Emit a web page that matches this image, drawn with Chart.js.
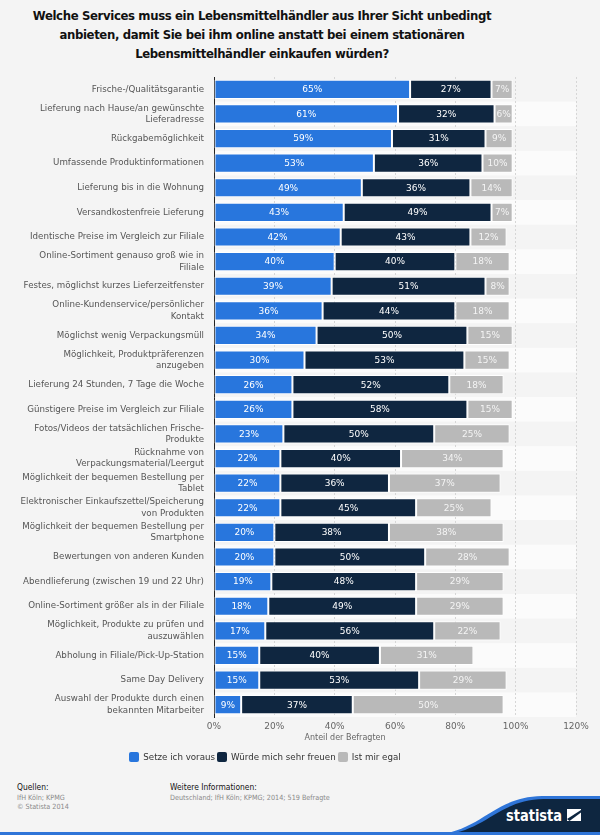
<!DOCTYPE html>
<html>
<head>
<meta charset="utf-8">
<script src="https://cdn.jsdelivr.net/npm/chart.js@4.4.0/dist/chart.umd.min.js"></script>
<style>
  html, body { margin: 0; padding: 0; background: #f4f4f4; }
  body { width: 600px; height: 835px; position: relative; overflow: hidden; font-family: "DejaVu Sans", sans-serif; }
  #title { position: absolute; left: 0; top: 6px; width: 524px; text-align: center; white-space: nowrap; font-family: "DejaVu Sans Condensed", "DejaVu Sans", sans-serif; font-stretch: condensed; font-weight: bold; font-size: 13px; letter-spacing: -0.36px; line-height: 19px; color: #111; }
  #chartWrap { position: absolute; left: 0; top: 0; width: 600px; height: 735px; }
  #axisTitle { position: absolute; left: 0; top: 733px; width: 690px; text-align: center; font-size: 8px; color: #666; }
  #legend { position: absolute; left: 0; top: 752px; width: 530px; text-align: center; white-space: nowrap; font-size: 8.7px; color: #333; }
  #legend span.item { display: inline-block; margin: 0 1px; }
  #legend i { display: inline-block; width: 10px; height: 10px; border-radius: 2px; vertical-align: -2px; margin-right: 4px; }
  .foot { position: absolute; font-family: "DejaVu Sans Condensed", "DejaVu Sans", sans-serif; font-stretch: condensed; font-size: 7.2px; color: #8a8a8a; line-height: 9px; }
  .foot b { font-weight: normal; color: #111; font-size: 8.4px; display: block; margin-bottom: 1px; }
</style>
</head>
<body>
<div id="title">Welche Services muss ein Lebensmittelhändler aus Ihrer Sicht unbedingt<br>anbieten, damit Sie bei ihm online anstatt bei einem stationären<br>Lebensmittelhändler einkaufen würden?</div>
<div id="chartWrap"><canvas id="chart" width="600" height="735"></canvas></div>
<div id="axisTitle">Anteil der Befragten</div>
<div id="legend"></div>
<div class="foot" style="left:17px; top:783px;"><b>Quellen:</b>IfH Köln; KPMG<br>© Statista 2014</div>
<div class="foot" style="left:170px; top:783px;"><b>Weitere Informationen:</b>Deutschland; IfH Köln; KPMG; 2014; 519 Befragte</div>
<svg style="position:absolute; left:0; top:780px;" width="600" height="55">
  <path d="M432 55 C 482 52, 492 17, 542 16 L 600 16 L 600 55 Z" fill="#2f75d8"/>
  <path d="M438 55 C 486 53, 496 20, 544 19 L 600 19 L 600 55 Z" fill="#0e2640"/>
  <rect x="0" y="52" width="600" height="3" fill="#2f75d8"/>
  <text x="506" y="41" fill="#fff" font-family="DejaVu Sans Condensed, DejaVu Sans" font-stretch="condensed" font-weight="bold" font-size="16" textLength="56" lengthAdjust="spacingAndGlyphs">statista</text>
  <rect x="567" y="29" width="14" height="12" fill="#fff"/>
  <path d="M567 39 L 581 30 L 581 32.5 L 569.5 41 Z" fill="#0e2640"/>
</svg>

<script>
// Kategorien (y-Achse, mehrzeilig)
const categories = [
  'Frische-/Qualitätsgarantie',
  ['Lieferung nach Hause/an gewünschte', 'Lieferadresse'],
  'Rückgabemöglichkeit',
  'Umfassende Produktinformationen',
  'Lieferung bis in die Wohnung',
  'Versandkostenfreie Lieferung',
  'Identische Preise im Vergleich zur Filiale',
  ['Online-Sortiment genauso groß wie in', 'Filiale'],
  'Festes, möglichst kurzes Lieferzeitfenster',
  ['Online-Kundenservice/persönlicher', 'Kontakt'],
  'Möglichst wenig Verpackungsmüll',
  ['Möglichkeit, Produktpräferenzen', 'anzugeben'],
  'Lieferung 24 Stunden, 7 Tage die Woche',
  'Günstigere Preise im Vergleich zur Filiale',
  ['Fotos/Videos der tatsächlichen Frische-', 'Produkte'],
  ['Rücknahme von', 'Verpackungsmaterial/Leergut'],
  ['Möglichkeit der bequemen Bestellung per', 'Tablet'],
  ['Elektronischer Einkaufszettel/Speicherung', 'von Produkten'],
  ['Möglichkeit der bequemen Bestellung per', 'Smartphone'],
  'Bewertungen von anderen Kunden',
  'Abendlieferung (zwischen 19 und 22 Uhr)',
  'Online-Sortiment größer als in der Filiale',
  ['Möglichkeit, Produkte zu prüfen und', 'auszuwählen'],
  'Abholung in Filiale/Pick-Up-Station',
  'Same Day Delivery',
  ['Auswahl der Produkte durch einen', 'bekannten Mitarbeiter']
];

const setzeVoraus = [65, 61, 59, 53, 49, 43, 42, 40, 39, 36, 34, 30, 26, 26, 23, 22, 22, 22, 20, 20, 19, 18, 17, 15, 15, 9];
const sehrFreuen  = [27, 32, 31, 36, 36, 49, 43, 40, 51, 44, 50, 53, 52, 58, 50, 40, 36, 45, 38, 50, 48, 49, 56, 40, 53, 37];
const egal        = [7, 6, 9, 10, 14, 7, 12, 18, 8, 18, 15, 15, 18, 15, 25, 34, 37, 25, 38, 28, 29, 29, 22, 31, 29, 50];

const seriesNames = ['Setze ich voraus', 'Würde mich sehr freuen', 'Ist mir egal'];
const seriesColors = ['#2876dd', '#0f2640', '#b9b9b9'];
const xTicks = [0, 20, 40, 60, 80, 100, 120];

// abwechselnde Zeilenhintergründe
const rowBands = {
  id: 'rowBands',
  beforeDraw(chart) {
    const { ctx, chartArea: a, scales: { y } } = chart;
    ctx.save();
    ctx.fillStyle = '#fbfbfb';
    categories.forEach((c, i) => {
      if (i % 2 === 0) return;
      const top = y.getPixelForValue(i - 0.5);
      const bottom = y.getPixelForValue(i + 0.5);
      ctx.fillRect(a.left, top, a.right - a.left, bottom - top);
    });
    ctx.restore();
  }
};

// Prozentwerte in den Balken
const barLabels = {
  id: 'barLabels',
  afterDatasetsDraw(chart) {
    const { ctx } = chart;
    ctx.save();
    ctx.font = '9px "DejaVu Sans"';
    ctx.textAlign = 'center';
    ctx.textBaseline = 'middle';
    chart.data.datasets.forEach((ds, di) => {
      ctx.fillStyle = di === 2 ? '#f4f4f4' : '#ffffff';
      chart.getDatasetMeta(di).data.forEach((bar, i) => {
        ctx.fillText(ds.data[i] + '%', (bar.x + bar.base) / 2, bar.y + 0.5);
      });
    });
    ctx.restore();
  }
};

const chart = new Chart(document.getElementById('chart'), {
  type: 'bar',
  data: {
    labels: categories,
    datasets: [
      { label: seriesNames[0], data: setzeVoraus, backgroundColor: seriesColors[0] },
      { label: seriesNames[1], data: sehrFreuen, backgroundColor: seriesColors[1] },
      { label: seriesNames[2], data: egal, backgroundColor: seriesColors[2] }
    ]
  },
  options: {
    indexAxis: 'y',
    responsive: false,
    animation: false,
    layout: { padding: { top: 77, left: 20, right: 24, bottom: 0 } },
    datasets: { bar: { barPercentage: 0.78, categoryPercentage: 1, borderColor: '#ffffff', borderWidth: 1, borderSkipped: false } },
    plugins: { legend: { display: false }, tooltip: { enabled: false } },
    scales: {
      x: {
        stacked: true, min: 0, max: 120,
        afterBuildTicks: s => { s.ticks = xTicks.map(v => ({ value: v })); },
        afterFit: s => { s.height = 18; },
        grid: { color: '#d6d6d6', drawTicks: false },
        border: { display: false, dash: [2, 2] },
        ticks: { padding: 4, color: '#666', font: { family: 'DejaVu Sans', size: 9 }, callback: v => v + '%' }
      },
      y: {
        stacked: true,
        afterFit: s => { s.width = 194; },
        grid: { display: false },
        border: { display: true, color: '#222', width: 1 },
        ticks: { padding: 2, color: '#555', font: { family: 'DejaVu Sans', size: 8.7, lineHeight: 1.3 }, autoSkip: false }
      }
    }
  },
  plugins: [rowBands, barLabels]
});

// Legende
document.getElementById('legend').innerHTML = chart.data.datasets.map(ds =>
  `<span class="item"><i style="background:${ds.backgroundColor}"></i>${ds.label}</span>`
).join('');
</script>
</body>
</html>
